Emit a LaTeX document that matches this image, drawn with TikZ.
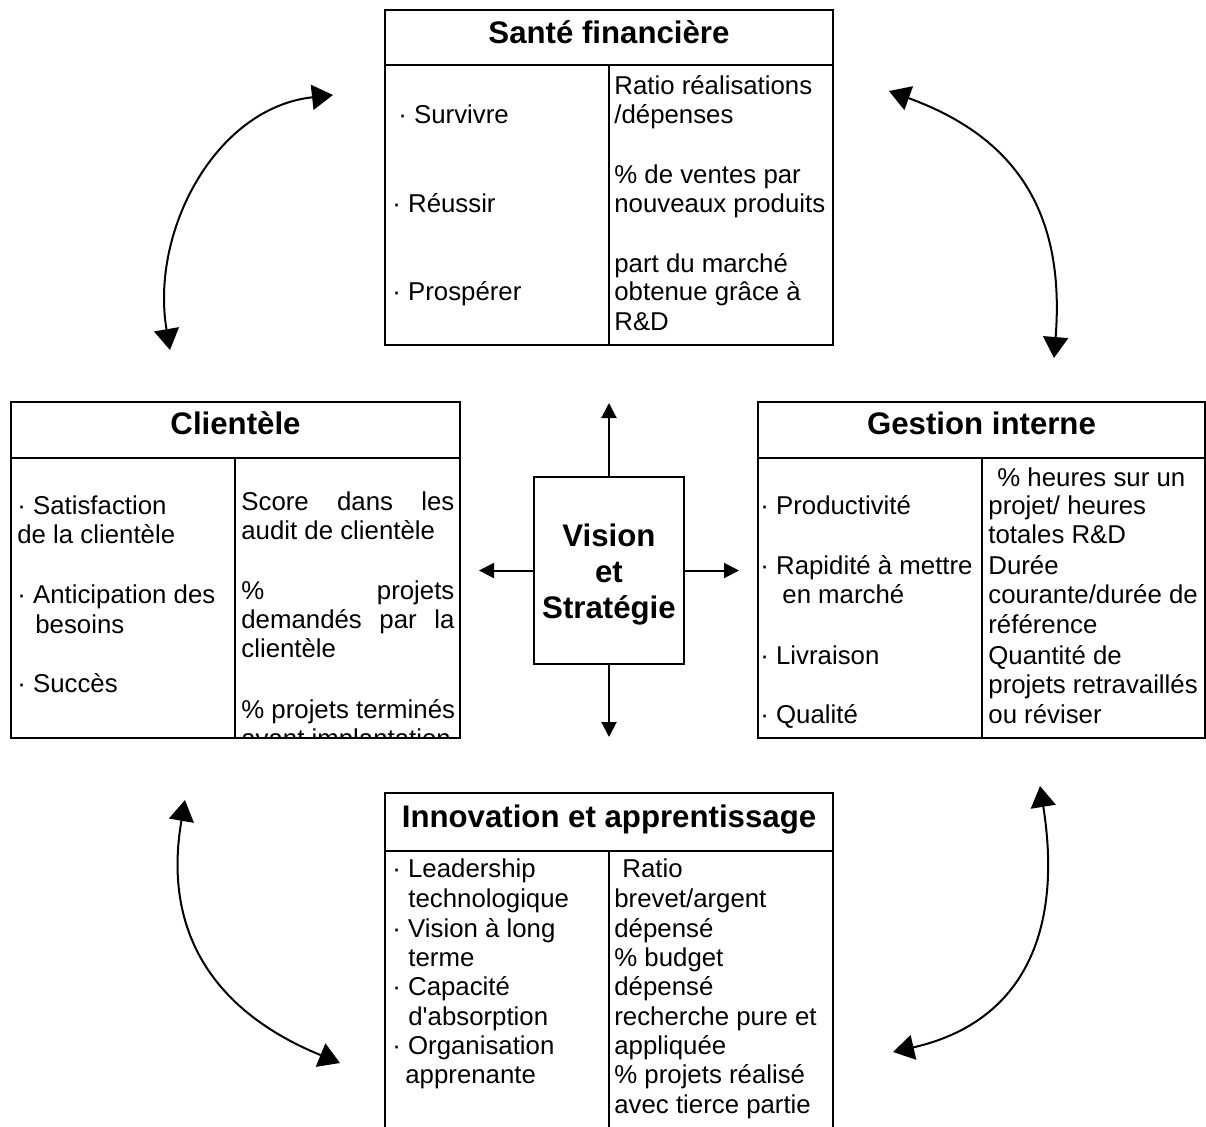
\documentclass[tikz,border=0pt]{standalone}
\usepackage{fontspec}
\setmainfont{Liberation Sans}
\usetikzlibrary{arrows.meta}
\newcommand\bodyf{\fontsize{12.9}{14.75}\selectfont}
\newcommand\headf{\fontsize{15.6}{17}\selectfont\bfseries}
\begin{document}
\begin{tikzpicture}[x=0.5pt,y=-0.5pt,
  box/.style={draw, line width=1pt, inner sep=0pt},
  rule/.style={line width=1pt},
  txt/.style={anchor=base west, inner sep=0pt, font=\bodyf},
  head/.style={anchor=base, inner sep=0pt, font=\headf},
  arr/.style={line width=1pt, -{Triangle[length=7.5pt,width=7.5pt]}},
  bigarr/.style={line width=1pt, {Triangle[length=10.5pt,width=12.5pt]}-{Triangle[length=10.5pt,width=12.5pt]}}]
\useasboundingbox (0,0) rectangle (1206,1126);

% ---------- Santé financière ----------
\node[box, minimum width=224pt, minimum height=167.5pt] (sf) at (609,177.5) {};
\draw[rule] (385,65) -- (833,65);
\draw[rule] (609,65) -- (609,345);
\node[head] (sfh) at (609,43) {Santé financière};
\node[txt] (sfl1) at (398,123) {· Survivre};
\node[txt] (sfl2) at (392,212) {· Réussir};
\node[txt] (sfl3) at (392,300) {· Prospérer};
\node[txt] (sfr1) at (614,94) {Ratio réalisations};
\node[txt] (sfr2) at (614,123) {/dépenses};
\node[txt] (sfr3) at (614,183) {\% de ventes par};
\node[txt] (sfr4) at (614,212) {nouveaux produits};
\node[txt] (sfr5) at (614,272) {part du marché};
\node[txt] (sfr6) at (614,300) {obtenue grâce à};
\node[txt] (sfr7) at (614,330) {R\&D};

% ---------- Clientèle ----------
\node[box, minimum width=224.5pt, minimum height=168pt] (cl) at (235.5,570) {};
\draw[rule] (11,458) -- (460,458);
\draw[rule] (235,458) -- (235,738);
\node[head] (clh) at (235.5,434) {Clientèle};
\node[txt] (cll1) at (17,514) {· Satisfaction};
\node[txt] (cll2) at (17,543) {de la clientèle};
\node[txt] (cll3) at (17,603) {· Anticipation des};
\node[txt] (cll4) at (35,633) {besoins};
\node[txt] (cll5) at (17,692) {· Succès};
\node[txt] (clr1) at (241,510) {\hbox to 106.5pt{Score\hfill dans\hfill les}};
\node[txt] (clr2) at (241,539) {audit de clientèle};
\node[txt] (clr3) at (241,599) {\hbox to 106.5pt{\%\hfill projets}};
\node[txt] (clr4) at (241,628) {\hbox to 106.5pt{demandés\hfill par\hfill la}};
\node[txt] (clr5) at (241,657) {clientèle};
\node[txt] (clr6) at (241,718) {\% projets terminés};
\begin{scope}
  \clip (236,700) rectangle (459,736);
  \node[txt] (clr7) at (241,747) {avant implantation};
\end{scope}

% ---------- Gestion interne ----------
\node[box, minimum width=223.5pt, minimum height=168pt] (gi) at (981.5,570) {};
\draw[rule] (758,458) -- (1205,458);
\draw[rule] (982,458) -- (982,738);
\node[head] (gih) at (981.5,434) {Gestion interne};
\node[txt] (gil1) at (760,514) {· Productivité};
\node[txt] (gil2) at (760,574) {· Rapidité à mettre};
\node[txt] (gil3) at (782,603) {en marché};
\node[txt] (gil4) at (760,664) {· Livraison};
\node[txt] (gil5) at (760,723) {· Qualité};
\node[txt] (gir1) at (997,486) {\% heures sur un};
\node[txt] (gir2) at (988,514) {projet/ heures};
\node[txt] (gir3) at (988,543) {totales R\&D};
\node[txt] (gir4) at (988,574) {Durée};
\node[txt] (gir5) at (988,603) {courante/durée de};
\node[txt] (gir6) at (988,633) {référence};
\node[txt] (gir7) at (988,664) {Quantité de};
\node[txt] (gir8) at (988,693) {projets retravaillés};
\node[txt] (gir9) at (988,723) {ou réviser};

% ---------- Innovation et apprentissage ----------
\node[box, minimum width=224pt, minimum height=173.5pt] (ia) at (609,966.5) {};
\draw[rule] (385,851) -- (833,851);
\draw[rule] (609,851) -- (609,1140);
\node[head] (iah) at (609,827) {Innovation et apprentissage};
\node[txt] (ial1) at (392,877) {· Leadership};
\node[txt] (ial2) at (408,907) {technologique};
\node[txt] (ial3) at (392,937) {· Vision à long};
\node[txt] (ial4) at (408,966) {terme};
\node[txt] (ial5) at (392,995) {· Capacité};
\node[txt] (ial6) at (408,1025) {d\textquotesingle absorption};
\node[txt] (ial7) at (392,1054) {· Organisation};
\node[txt] (ial8) at (405,1083) {apprenante};
\node[txt] (iar1) at (622,877) {Ratio};
\node[txt] (iar2) at (614,907) {brevet/argent};
\node[txt] (iar3) at (614,937) {dépensé};
\node[txt] (iar4) at (614,966) {\% budget};
\node[txt] (iar5) at (614,995) {dépensé};
\node[txt] (iar6) at (614,1025) {recherche pure et};
\node[txt] (iar7) at (614,1054) {appliquée};
\node[txt] (iar8) at (614,1083) {\% projets réalisé};
\node[txt] (iar9) at (614,1113) {avec tierce partie};

% ---------- Vision et Stratégie ----------
\node[box, minimum width=75pt, minimum height=93.5pt] (vis) at (609,570.5) {};
\node[head] (vis1) at (609,546) {Vision};
\node[head] (vis2) at (609,582) {et};
\node[head] (vis3) at (609,618) {Stratégie};

\coordinate (up) at (609,403);
\coordinate (lt) at (479,570.5);
\coordinate (rt) at (739,570.5);
\coordinate (dn) at (609,737);
\draw[arr] (vis.north) -- (up);
\draw[arr] (vis.west) -- (lt);
\draw[arr] (vis.east) -- (rt);
\draw[arr] (vis.south) -- (dn);

% ---------- curved double arrows ----------
\coordinate (tla) at (333,95);
\coordinate (tlb) at (170,350);
\coordinate (tra) at (889,91);
\coordinate (trb) at (1054,358);
\coordinate (bla) at (185,800);
\coordinate (blb) at (340,1063);
\coordinate (bra) at (1040,786);
\coordinate (brb) at (893,1052);
\draw[bigarr] (tla) .. controls (215,108) and (150,232) .. (tlb);
\draw[bigarr] (tra) .. controls (1021,139) and (1065,218) .. (trb);
\draw[bigarr] (bla) .. controls (162,933) and (215,1012) .. (blb);
\draw[bigarr] (bra) .. controls (1062,924) and (1029,1021) .. (brb);
\end{tikzpicture}
\end{document}
